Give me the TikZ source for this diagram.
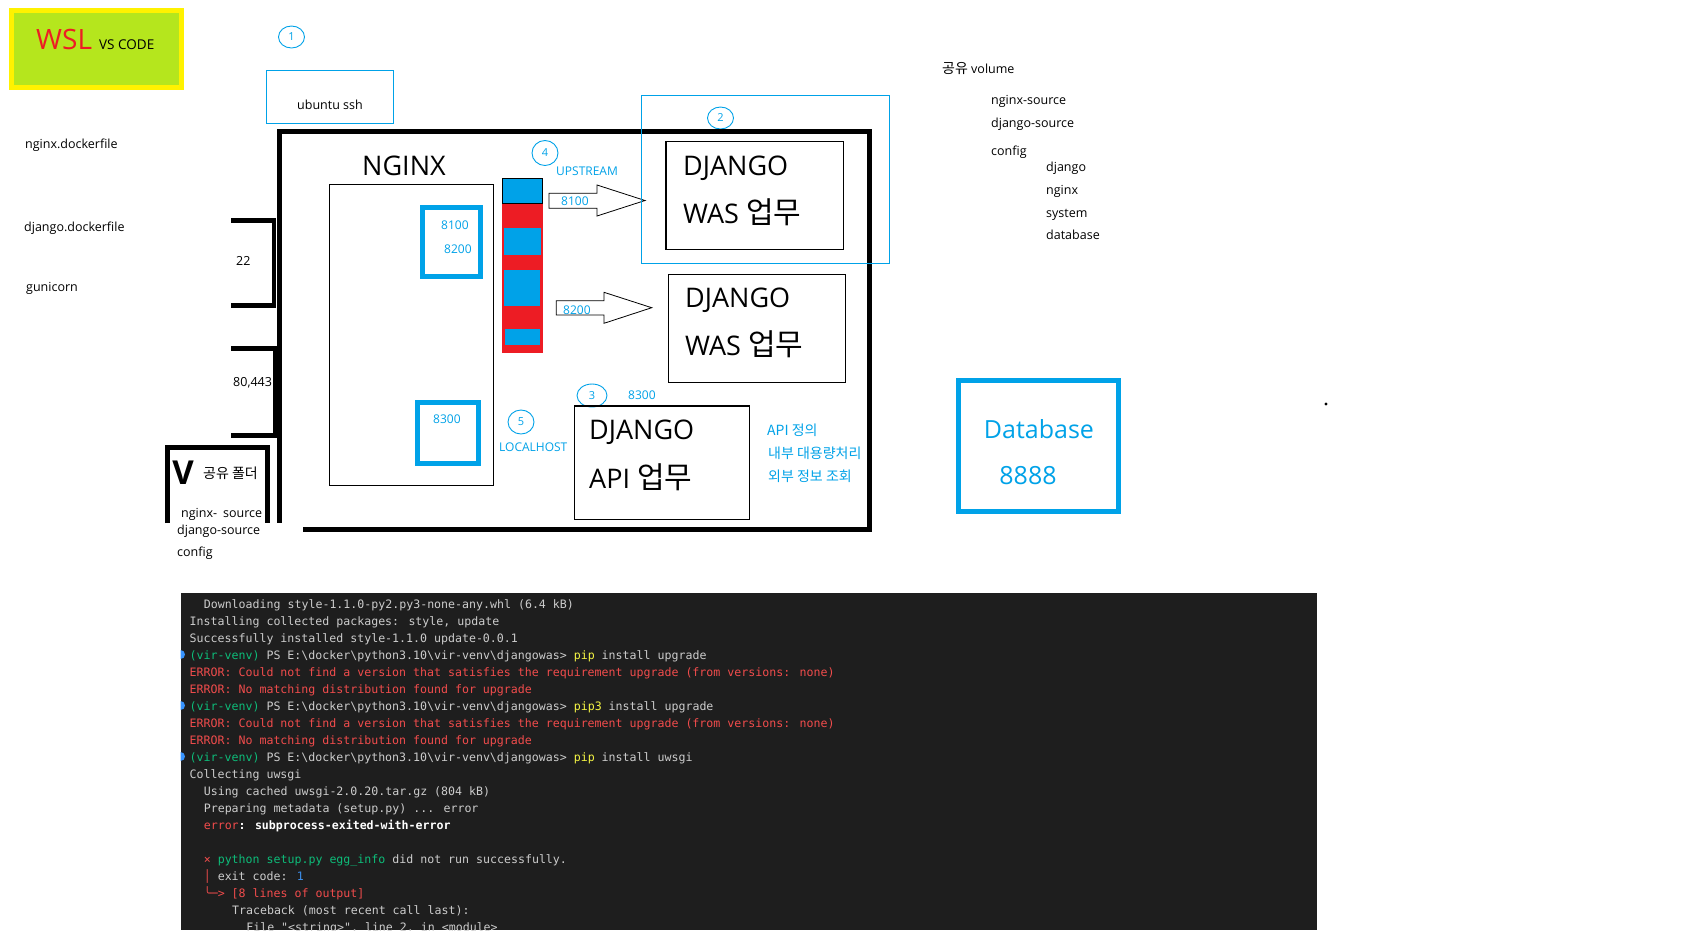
\documentclass[tikz,border=0pt]{standalone}
\usepackage{fontspec}
\setmainfont{Open Sans}
\newfontfamily\kr{Noto Sans CJK KR}
\newfontfamily\term[Ligatures=TeXOff]{DejaVu Sans Mono}
\usetikzlibrary{shapes.geometric}

\definecolor{pblue}{HTML}{00A2E8}
\definecolor{pred}{HTML}{ED1C24}
\definecolor{pyellow}{HTML}{FFF200}
\definecolor{plime}{HTML}{B5E61D}
\definecolor{termbg}{HTML}{1E1E1E}
\definecolor{termfg}{HTML}{CCCCCC}
\definecolor{termred}{HTML}{F14C4C}
\definecolor{termgreen}{HTML}{0DBC79}
\definecolor{termyellow}{HTML}{F5F543}
\definecolor{termblue}{HTML}{3B8EEA}
\definecolor{termdot}{HTML}{3794FF}

\newcommand{\venvps}[1]{\textcolor{termgreen}{(vir-venv)} PS E:\textbackslash docker\textbackslash python3.10\textbackslash vir-venv\textbackslash djangowas> \textcolor{termyellow}{#1}}
\newcommand{\bigkr}[1]{{\kr\fontsize{30}{31}\selectfont #1}}

\begin{document}
\begin{tikzpicture}[x=1pt,y=1pt,
  lbl/.style={anchor=mid west,yshift=-3,font=\fontsize{12.5}{15}\selectfont},
  klbl/.style={anchor=mid west,yshift=-3,font=\kr\fontsize{14}{15}\selectfont},
  blbl/.style={anchor=mid west,yshift=-3,text=pblue,font=\fontsize{12}{14}\selectfont},
  kblbl/.style={anchor=mid west,yshift=-3,text=pblue,font=\kr\fontsize{14}{15}\selectfont},
  biglbl/.style={anchor=base west,font=\fontsize{27}{30}\selectfont},
  numring/.style={ellipse,draw=pblue,line width=0.9,text=pblue,font=\fontsize{11}{12}\selectfont,minimum width=26,minimum height=22},
  thinbox/.style={draw,line width=1.2},
  bluebox/.style={draw=pblue,line width=5},
  termline/.style={anchor=base west,text=termfg,font=\term\fontsize{11.6}{14}\selectfont}]
\tikzstyle{every node}+=[inner sep=0pt]
\fill [white] (0,0) rectangle (1696,-930);
\useasboundingbox (0,0) rectangle (1696,-930);
% badge
\node [fill=plime,draw=pyellow,line width=5,minimum width=170,minimum height=77] (wsl) at (96.5,-49) {};
\node [anchor=base west,text=pred,font=\fontsize{28}{30}\selectfont] (wsltxt) at (36,-49) {WSL};
\node [anchor=base west,font=\fontsize{13.5}{15}\selectfont] (vscode) at (99,-49) {VS CODE};
% numbered rings
\node [numring] (ring1) at (291.5,-37) {1};
\node [numring] (ring2) at (720.5,-118) {2};
\node [numring,minimum width=30,minimum height=23] (ring3) at (592,-395.5) {3};
\node [numring,minimum height=25] (ring4) at (545,-153) {4};
\node [numring,minimum height=24] (ring5) at (521,-422) {5};
% ssh
\node [draw=pblue,line width=1,minimum width=127,minimum height=53] (sshbox) at (329.5,-96.5) {};
\node [font=\fontsize{12.5}{15}\selectfont] (ssh) at (330,-105) {ubuntu ssh};
% left notes
\node [lbl] (ngdock) at (25,-143) {nginx.dockerfile};
\node [lbl] (djdock) at (24,-226) {django.dockerfile};
\node [lbl] (guni) at (26,-286) {gunicorn};
% outer frame and ports
\draw [line width=5] (303,-529.5) -- (869,-529.5) -- (869,-131.5) -- (279,-131.5) -- (279,-523);
\draw [line width=4.5] (231,-220.5) -- (274,-220.5) -- (274,-305.5) -- (231,-305.5);
\draw [line width=4.5] (231,-348.5) -- (275,-348.5) -- (275,-435.5) -- (231,-435.5);
\node [lbl] (port22) at (236,-260) {22};
\node [lbl] (port80) at (233,-381) {80,443};
% shared folder
\draw [line width=5] (167.5,-523) -- (167.5,-447) -- (267.5,-447) -- (267.5,-523);
\node [font=\bfseries\fontsize{33}{35}\selectfont] (vmark) at (183,-473) {V};
\node [klbl] (shared) at (203,-473) {공유 폴더};
\node [lbl] (ngsrc) at (181,-512) {nginx-\hspace{6pt}source};
\node [lbl] (djsrc) at (177,-529) {django-source};
\node [lbl] (cfg) at (177,-551) {config};
% nginx
\node [draw,line width=1,minimum width=164,minimum height=301] (nginxbox) at (411,-334.5) {};
\node [biglbl] (nginx) at (362,-175) {NGINX};
\node [bluebox,minimum width=57.7,minimum height=69] (was_ports) at (451.4,-242) {};
\node [blbl] (p8100) at (441,-224) {8100};
\node [blbl] (p8200) at (444,-248) {8200};
\node [bluebox,minimum width=60.7,minimum height=60.7] (api_port) at (447.9,-432.9) {};
\node [blbl] (p8300) at (433,-418) {8300};
% upstream
\fill [pred] (502,-178) rectangle (543,-353);
\filldraw [fill=pblue,draw=black,line width=0.8] (502.7,-178.3) rectangle (542,-203.3);
\fill [pblue] (504,-227.7) rectangle (541,-255);
\fill [pblue] (504,-270) rectangle (540,-305.7);
\fill [pblue] (505,-329) rectangle (540,-345);
\node [blbl] (upstream) at (556,-170) {UPSTREAM};
\draw [line width=0.8,fill=white] (549,-193.3) -- (597,-193.3) -- (597,-185) -- (645,-200.5) -- (597,-216) -- (597,-208.3) -- (549,-208.3) -- cycle;
\node [blbl] (a8100) at (561,-200) {8100};
\draw [line width=0.8,fill=white] (556.3,-300.7) -- (604,-300.7) -- (604,-292.3) -- (651.7,-307.7) -- (604,-323.3) -- (604,-315) -- (556.3,-315) -- cycle;
\node [blbl] (a8200) at (563,-309) {8200};
\node [blbl] (api8300) at (628,-394) {8300};
\node [blbl] (localhost) at (499,-446) {LOCALHOST};
% django boxes
\node [draw=pblue,line width=1,minimum width=248,minimum height=168] (wasframe) at (765,-179) {};
\node [thinbox,minimum width=177.3,minimum height=107.6] (was1) at (754.6,-195.5) {};
\node [biglbl] (was1a) at (683,-175) {DJANGO};
\node [biglbl] (was1b) at (683,-223.3) {WAS \bigkr{업무}};
\node [thinbox,minimum width=177.4,minimum height=108] (was2) at (757,-328.3) {};
\node [biglbl] (was2a) at (685,-307.3) {DJANGO};
\node [biglbl] (was2b) at (685,-355) {WAS \bigkr{업무}};
\node [thinbox,minimum width=175,minimum height=113.3] (api) at (661.8,-462.7) {};
\node [biglbl] (apia) at (589,-439) {DJANGO};
\node [biglbl] (apib) at (589,-488.3) {API \bigkr{업무}};
\node [kblbl] (apinote1) at (767,-430) {API 정의};
\node [kblbl] (apinote2) at (768,-453) {내부 대용량처리};
\node [kblbl] (apinote3) at (768,-476) {외부 정보 조회};
% volume tree
\node [lbl] (vol) at (942,-68) {{\kr\fontsize{14}{15}\selectfont 공유} volume};
\node [lbl] (vngsrc) at (991,-99) {nginx-source};
\node [lbl] (vdjsrc) at (991,-122) {django-source};
\node [lbl] (vcfg) at (991,-150) {config};
\node [lbl] (vdj) at (1046,-166) {django};
\node [lbl] (vng) at (1046,-189) {nginx};
\node [lbl] (vsys) at (1046,-212) {system};
\node [lbl] (vdb) at (1046,-234) {database};
% database
\node [bluebox,minimum width=159.7,minimum height=130.7] (db) at (1038.4,-446.2) {};
\node [text=pblue,font=\fontsize{25}{28}\selectfont] (dbname) at (1039,-429.5) {Database};
\node [text=pblue,font=\fontsize{25}{28}\selectfont] (dbport) at (1028,-475.3) {8888};
\fill (1326,-404) circle (1.6);
% terminal
\fill [termbg] (181,-593) rectangle (1317,-930);
\foreach \yy in {654.5,705.5,756.5}
  \fill [termdot] (180.5,-\yy) ++(0,4.5) arc (90:-90:4.5) -- cycle;
\node [termline] (t0) at (203.6,-608) {Downloading style-1.1.0-py2.py3-none-any.whl (6.4 kB)};
\node [termline] (t1) at (189.5,-625) {Installing collected packages: style, update};
\node [termline] (t2) at (189.5,-642) {Successfully installed style-1.1.0 update-0.0.1};
\node [termline] (t3) at (189.5,-659) {\venvps{pip} install upgrade};
\node [termline,text=termred] (t4) at (189.5,-676) {ERROR: Could not find a version that satisfies the requirement upgrade (from versions: none)};
\node [termline,text=termred] (t5) at (189.5,-693) {ERROR: No matching distribution found for upgrade};
\node [termline] (t6) at (189.5,-710) {\venvps{pip3} install upgrade};
\node [termline,text=termred] (t7) at (189.5,-727) {ERROR: Could not find a version that satisfies the requirement upgrade (from versions: none)};
\node [termline,text=termred] (t8) at (189.5,-744) {ERROR: No matching distribution found for upgrade};
\node [termline] (t9) at (189.5,-761) {\venvps{pip} install uwsgi};
\node [termline] (t10) at (189.5,-778) {Collecting uwsgi};
\node [termline] (t11) at (203.6,-795) {Using cached uwsgi-2.0.20.tar.gz (804 kB)};
\node [termline] (t12) at (203.6,-812) {Preparing metadata (setup.py) ... error};
\node [termline] (t13) at (203.6,-829) {\textcolor{termred}{error}\textcolor{white}{\bfseries: subprocess-exited-with-error}};
\node [termline] (t15) at (203.6,-863) {\textcolor{termred}{×} \textcolor{termgreen}{python setup.py egg\_info} did not run successfully.};
\node [termline] (t16) at (203.6,-880) {\textcolor{termred}{│} exit code: \textcolor{termblue}{1}};
\node [termline,text=termred] (t17) at (203.6,-897) {╰─> [8 lines of output]};
\node [termline] (t18) at (231.9,-914) {Traceback (most recent call last):};
\node [termline] (t19) at (246.1,-931) {File "<string>", line 2, in <module>};
\end{tikzpicture}
\end{document}
